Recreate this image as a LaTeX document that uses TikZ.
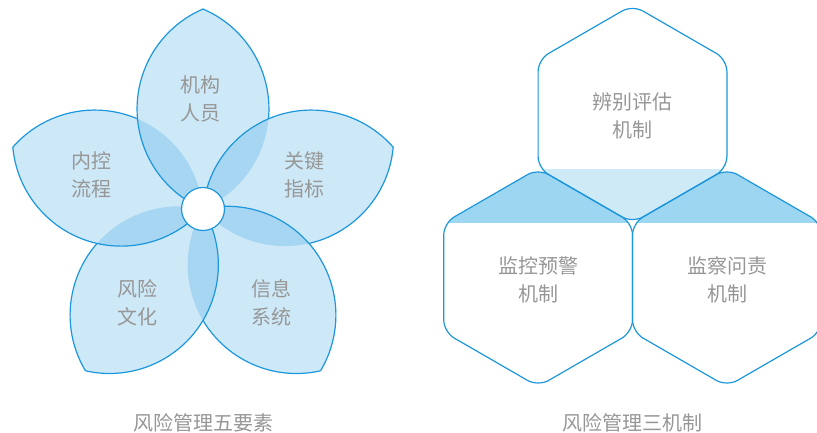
\documentclass[tikz,border=0pt]{standalone}
\usepackage{fontspec}
\newfontfamily\cjk{Noto Sans CJK SC}
\usetikzlibrary{calc}
\definecolor{petalblue}{RGB}{28,150,220}
\definecolor{labelgray}{RGB}{150,150,150}
\definecolor{bandlight}{RGB}{206,234,247}
\definecolor{banddark}{RGB}{156,214,241}

\begin{document}
\begin{tikzpicture}[x=1pt,y=1pt,
  petal/.style={line width=1.2pt,petalblue},
  lbl/.style={text=labelgray,font=\cjk\fontsize{20}{28}\selectfont,align=center},
  hex/.style={line width=1.2pt,rounded corners=12pt}]

\useasboundingbox (0,0) rectangle (817,432);
\clip (0,0) rectangle (817,432);

\coordinate (O) at (203,223);

\foreach \a in {90,162,234,306,18}{
  \fill[petalblue,fill opacity=.22] (O) arc[start angle=\a+156.8,end angle=\a+23.2,radius=108.8]
    arc[start angle=\a-23.2,end angle=\a-156.8,radius=108.8] -- cycle;
}
\foreach \a in {90,162,234,306,18}{
  \draw[petal] (O) arc[start angle=\a+156.8,end angle=\a+23.2,radius=108.8];
  \pgfmathsetmacro\b{\a-72}
  \begin{scope}[even odd rule]
  \clip (-10,-10) rectangle (440,450)
    (O) arc[start angle=\b+156.8,end angle=\b+23.2,radius=108.8]
    arc[start angle=\b-23.2,end angle=\b-156.8,radius=108.8] -- cycle;
  \draw[petal] (O) ++(\a:200) arc[start angle=\a-23.2,end angle=\a-156.8,radius=108.8];
  \end{scope}
}
\filldraw[line width=1.2pt,draw=petalblue,fill=white] (O) circle (21.5);

\node[lbl] (org) at (200,333) {机构\\人员};
\node[lbl] (proc) at (91,257) {内控\\流程};
\node[lbl] (kpi) at (304,257) {关键\\指标};
\node[lbl] (cult) at (137,129) {风险\\文化};
\node[lbl] (info) at (271,129) {信息\\系统};
\node[lbl] (capA) at (203,9) {风险管理五要素};

\coordinate (H1) at (632.5,318);
\coordinate (H2) at (538.1,154.5);
\coordinate (H3) at (726.9,154.5);

\begin{scope}[shift={(H1)},rounded corners=12pt]
\clip (90:109) \foreach \k in {150,210,...,390}{ -- (\k:109)} -- cycle;
\fill[bandlight,sharp corners] (-120,-109) rectangle (120,-54.5);
\end{scope}
\begin{scope}[shift={(H2)},rounded corners=12pt]
\clip (90:109) \foreach \k in {150,210,...,390}{ -- (\k:109)} -- cycle;
\fill[banddark,sharp corners] (-120,54.5) rectangle (120,109);
\end{scope}
\begin{scope}[shift={(H3)},rounded corners=12pt]
\clip (90:109) \foreach \k in {150,210,...,390}{ -- (\k:109)} -- cycle;
\fill[banddark,sharp corners] (-120,54.5) rectangle (120,109);
\end{scope}

\draw[hex,petalblue,shift={(H1)}] (90:109) \foreach \k in {150,210,...,390}{ -- (\k:109)} -- cycle;
\draw[hex,petalblue,shift={(H2)}] (90:109) \foreach \k in {150,210,...,390}{ -- (\k:109)} -- cycle;
\draw[hex,petalblue,shift={(H3)}] (90:109) \foreach \k in {150,210,...,390}{ -- (\k:109)} -- cycle;

\node[lbl] (ident) at (632,316.5) {辨别评估\\机制};
\node[lbl] (warn) at (538,152.5) {监控预警\\机制};
\node[lbl] (audit) at (727,152.5) {监察问责\\机制};
\node[lbl] (capB) at (632,9) {风险管理三机制};

\end{tikzpicture}
\end{document}
